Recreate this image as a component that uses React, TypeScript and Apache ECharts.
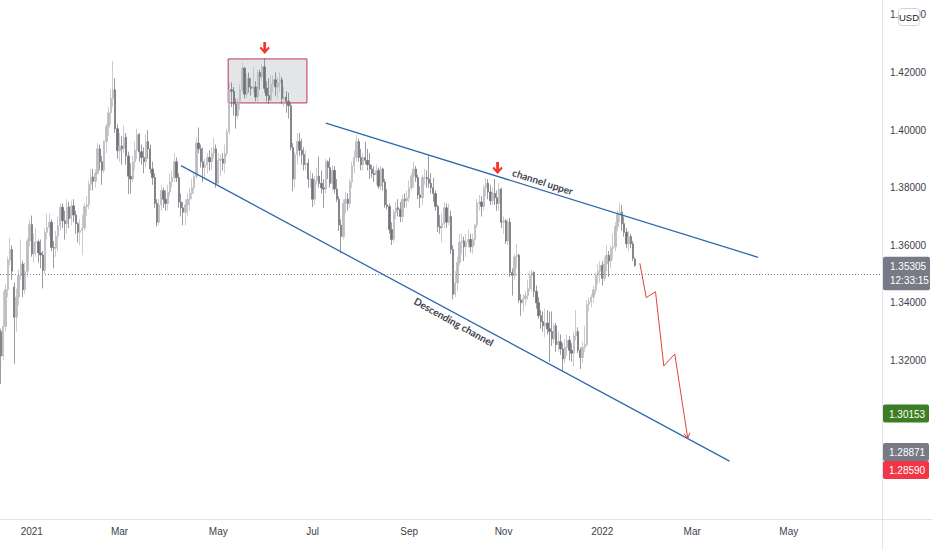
import React, { useEffect, useRef } from "react";
import * as echarts from "echarts";

// ---------- axis / calendar ----------
const startDate = "2020-12-11";
const skippedDays = ["2020-12-25", "2021-01-01"];
const categoryCount = 402;
const labelMonths = [0, 2, 4, 6, 8, 10];
const monthNames = ["Jan", "Feb", "Mar", "Apr", "May", "Jun", "Jul", "Aug", "Sep", "Oct", "Nov", "Dec"];
const priceTicks = [1.28, 1.32, 1.34, 1.36, 1.38, 1.4, 1.42, 1.44];
const yMin = 1.2649;
const yMax = 1.4452;

// ---------- daily candles [open, high, low, close] ----------
const dec2020 = [
  [1.33, 1.331, 1.3118, 1.3215], [1.3215, 1.344, 1.32, 1.3318], [1.3318, 1.3465, 1.33, 1.3446],
  [1.3446, 1.356, 1.342, 1.3548], [1.3548, 1.3625, 1.353, 1.3585], [1.3585, 1.36, 1.348, 1.351],
  [1.3455, 1.347, 1.3188, 1.335], [1.335, 1.345, 1.33, 1.342], [1.342, 1.3515, 1.339, 1.3495],
  [1.3495, 1.362, 1.348, 1.3535], [1.3535, 1.3545, 1.342, 1.3445], [1.3445, 1.354, 1.343, 1.351],
  [1.351, 1.3625, 1.349, 1.3615], [1.3615, 1.369, 1.3595, 1.3672],
];
const jan2021 = [
  [1.3672, 1.3703, 1.356, 1.357], [1.357, 1.364, 1.354, 1.361], [1.361, 1.366, 1.356, 1.3612],
  [1.3612, 1.362, 1.354, 1.3573], [1.3573, 1.362, 1.352, 1.3566], [1.3566, 1.358, 1.345, 1.3512],
  [1.3512, 1.366, 1.35, 1.3645], [1.3645, 1.371, 1.362, 1.3662], [1.3662, 1.371, 1.363, 1.368],
  [1.368, 1.369, 1.358, 1.3592], [1.3592, 1.3615, 1.352, 1.359], [1.359, 1.365, 1.356, 1.3631],
  [1.3631, 1.37, 1.358, 1.3668], [1.3668, 1.3745, 1.365, 1.3732], [1.3732, 1.3745, 1.366, 1.3685],
  [1.3685, 1.372, 1.362, 1.3675], [1.3675, 1.376, 1.364, 1.3733], [1.3733, 1.375, 1.366, 1.3693],
  [1.3693, 1.3755, 1.367, 1.3737], [1.3737, 1.376, 1.368, 1.3705],
];
const feb2021 = [
  [1.3705, 1.372, 1.364, 1.3675], [1.3675, 1.368, 1.361, 1.3645], [1.3645, 1.369, 1.36, 1.365],
  [1.365, 1.3705, 1.3565, 1.366], [1.366, 1.3745, 1.365, 1.3735], [1.3735, 1.377, 1.37, 1.374],
  [1.374, 1.3825, 1.3725, 1.3812], [1.3812, 1.3865, 1.379, 1.3837], [1.3837, 1.3865, 1.379, 1.3822],
  [1.3822, 1.3865, 1.38, 1.385], [1.385, 1.3955, 1.3845, 1.3935], [1.3935, 1.395, 1.386, 1.389],
  [1.389, 1.391, 1.381, 1.386], [1.386, 1.3965, 1.385, 1.396], [1.396, 1.402, 1.392, 1.4012],
  [1.4012, 1.408, 1.398, 1.406], [1.406, 1.414, 1.402, 1.411], [1.411, 1.4241, 1.408, 1.414],
  [1.414, 1.418, 1.399, 1.4005], [1.4005, 1.402, 1.39, 1.3928],
];
const mar2021 = [
  [1.3928, 1.399, 1.389, 1.3945], [1.3945, 1.398, 1.388, 1.3935], [1.3935, 1.4017, 1.392, 1.3975],
  [1.3975, 1.399, 1.388, 1.391], [1.391, 1.3925, 1.3778, 1.384], [1.384, 1.3885, 1.378, 1.383],
  [1.383, 1.391, 1.382, 1.389], [1.389, 1.396, 1.386, 1.393], [1.393, 1.4005, 1.39, 1.3985],
  [1.3985, 1.399, 1.389, 1.3925], [1.3925, 1.395, 1.388, 1.3905], [1.3905, 1.394, 1.385, 1.389],
  [1.389, 1.3985, 1.387, 1.396], [1.396, 1.4, 1.39, 1.3935], [1.3935, 1.395, 1.385, 1.3865],
  [1.3865, 1.389, 1.381, 1.3835], [1.3835, 1.385, 1.373, 1.3745], [1.3745, 1.376, 1.3665, 1.368],
  [1.368, 1.376, 1.367, 1.374], [1.374, 1.381, 1.372, 1.379], [1.379, 1.38, 1.373, 1.376],
  [1.376, 1.379, 1.372, 1.3745], [1.3745, 1.381, 1.372, 1.3785],
];
const apr2021 = [
  [1.3785, 1.385, 1.377, 1.382], [1.382, 1.386, 1.38, 1.3835], [1.3835, 1.3919, 1.382, 1.389],
  [1.389, 1.3905, 1.382, 1.3835], [1.3835, 1.385, 1.373, 1.375], [1.375, 1.378, 1.37, 1.373],
  [1.373, 1.375, 1.367, 1.3715], [1.3715, 1.376, 1.3669, 1.374], [1.374, 1.378, 1.37, 1.376],
  [1.376, 1.38, 1.372, 1.378], [1.378, 1.383, 1.376, 1.38], [1.38, 1.385, 1.378, 1.384],
  [1.384, 1.3975, 1.383, 1.3955], [1.3955, 1.4009, 1.392, 1.3935], [1.3935, 1.395, 1.387, 1.389],
  [1.389, 1.394, 1.382, 1.387], [1.387, 1.39, 1.383, 1.388], [1.388, 1.392, 1.385, 1.3905],
  [1.3905, 1.393, 1.386, 1.389], [1.389, 1.394, 1.386, 1.392], [1.392, 1.3973, 1.39, 1.3935],
  [1.3935, 1.395, 1.38, 1.3815],
];
const may2021 = [
  [1.3815, 1.392, 1.381, 1.3895], [1.3895, 1.3915, 1.384, 1.39], [1.39, 1.392, 1.386, 1.3885],
  [1.3885, 1.395, 1.385, 1.392], [1.392, 1.4005, 1.391, 1.3995], [1.3995, 1.4165, 1.3985, 1.414],
  [1.414, 1.4166, 1.408, 1.4135], [1.4135, 1.415, 1.405, 1.409], [1.409, 1.411, 1.4005, 1.405],
  [1.405, 1.411, 1.404, 1.4095], [1.4095, 1.416, 1.407, 1.414], [1.414, 1.4234, 1.413, 1.4215],
  [1.4215, 1.422, 1.411, 1.4125], [1.4125, 1.4195, 1.411, 1.418], [1.418, 1.42, 1.413, 1.415],
  [1.415, 1.418, 1.412, 1.4145], [1.4145, 1.422, 1.413, 1.415], [1.415, 1.417, 1.41, 1.4115],
  [1.4115, 1.421, 1.41, 1.42], [1.42, 1.421, 1.414, 1.4185], [1.4185, 1.423, 1.417, 1.422],
];
const jun2021 = [
  [1.422, 1.425, 1.413, 1.4145], [1.4145, 1.417, 1.41, 1.412], [1.412, 1.418, 1.409, 1.4105],
  [1.4105, 1.419, 1.409, 1.416], [1.416, 1.419, 1.413, 1.4175], [1.4175, 1.42, 1.412, 1.415],
  [1.415, 1.4185, 1.411, 1.4165], [1.4165, 1.42, 1.413, 1.4175], [1.4175, 1.4185, 1.409, 1.411],
  [1.411, 1.415, 1.408, 1.4115], [1.4115, 1.4135, 1.406, 1.41], [1.41, 1.413, 1.404, 1.4085],
  [1.4085, 1.4095, 1.393, 1.394], [1.394, 1.3955, 1.3787, 1.383], [1.383, 1.3925, 1.38, 1.3915],
  [1.3915, 1.399, 1.388, 1.396], [1.396, 1.399, 1.391, 1.393], [1.393, 1.397, 1.388, 1.3915],
  [1.3915, 1.394, 1.386, 1.388], [1.388, 1.393, 1.386, 1.3885], [1.3885, 1.39, 1.38, 1.383],
  [1.383, 1.386, 1.38, 1.383],
];
const jul2021 = [
  [1.383, 1.385, 1.3733, 1.376], [1.376, 1.384, 1.374, 1.3825], [1.3825, 1.387, 1.381, 1.384],
  [1.384, 1.3908, 1.38, 1.3815], [1.3815, 1.386, 1.378, 1.38], [1.38, 1.383, 1.373, 1.3795],
  [1.3795, 1.39, 1.378, 1.389], [1.389, 1.3895, 1.383, 1.387], [1.387, 1.3905, 1.38, 1.3815],
  [1.3815, 1.388, 1.379, 1.386], [1.386, 1.3875, 1.378, 1.3795], [1.3795, 1.383, 1.375, 1.376],
  [1.376, 1.377, 1.365, 1.367], [1.367, 1.369, 1.3572, 1.363], [1.363, 1.376, 1.362, 1.3745],
  [1.3745, 1.3785, 1.371, 1.376], [1.376, 1.378, 1.372, 1.3745], [1.3745, 1.383, 1.373, 1.382],
  [1.382, 1.389, 1.38, 1.3875], [1.3875, 1.393, 1.385, 1.3905], [1.3905, 1.3984, 1.389, 1.396],
  [1.396, 1.397, 1.389, 1.3905],
];
const aug2021 = [
  [1.3905, 1.3935, 1.386, 1.388], [1.388, 1.392, 1.386, 1.3905], [1.3905, 1.396, 1.388, 1.3895],
  [1.3895, 1.3935, 1.386, 1.388], [1.388, 1.392, 1.383, 1.3865], [1.3865, 1.388, 1.3835, 1.385],
  [1.385, 1.3875, 1.382, 1.3845], [1.3845, 1.388, 1.381, 1.386], [1.386, 1.387, 1.3795, 1.3805],
  [1.3805, 1.3875, 1.379, 1.3865], [1.3865, 1.387, 1.379, 1.382], [1.382, 1.383, 1.373, 1.374],
  [1.374, 1.3795, 1.3725, 1.3735], [1.3735, 1.3745, 1.364, 1.3655], [1.3655, 1.368, 1.3601, 1.362],
  [1.362, 1.3725, 1.361, 1.3715], [1.3715, 1.375, 1.369, 1.373], [1.373, 1.376, 1.37, 1.3725],
  [1.3725, 1.375, 1.368, 1.37], [1.37, 1.3775, 1.368, 1.376], [1.376, 1.378, 1.373, 1.3755],
  [1.3755, 1.379, 1.373, 1.3765],
];
const sep2021 = [
  [1.3765, 1.3825, 1.375, 1.38], [1.38, 1.385, 1.379, 1.384], [1.384, 1.389, 1.38, 1.3865],
  [1.3865, 1.3875, 1.382, 1.3835], [1.3835, 1.3845, 1.376, 1.3775], [1.3775, 1.3805, 1.373, 1.3765],
  [1.3765, 1.3845, 1.374, 1.3835], [1.3835, 1.3865, 1.381, 1.3835], [1.3835, 1.386, 1.38, 1.383],
  [1.383, 1.3913, 1.38, 1.3815], [1.3815, 1.385, 1.378, 1.38], [1.38, 1.3835, 1.375, 1.378],
  [1.378, 1.379, 1.372, 1.3735], [1.3735, 1.374, 1.3645, 1.3665], [1.3665, 1.3705, 1.364, 1.366],
  [1.366, 1.371, 1.361, 1.3675], [1.3675, 1.375, 1.366, 1.373], [1.373, 1.3745, 1.366, 1.368],
  [1.368, 1.3745, 1.367, 1.37], [1.37, 1.372, 1.357, 1.3585], [1.3585, 1.36, 1.3412, 1.343],
  [1.343, 1.351, 1.342, 1.347],
];
const oct2021 = [
  [1.347, 1.356, 1.344, 1.354], [1.354, 1.364, 1.353, 1.361], [1.361, 1.364, 1.357, 1.3615],
  [1.3615, 1.363, 1.3545, 1.3595], [1.3595, 1.364, 1.356, 1.361], [1.361, 1.3655, 1.359, 1.362],
  [1.362, 1.364, 1.3575, 1.3595], [1.3595, 1.364, 1.357, 1.362], [1.362, 1.3675, 1.36, 1.367],
  [1.367, 1.376, 1.366, 1.3745], [1.3745, 1.3775, 1.372, 1.375], [1.375, 1.377, 1.37, 1.3735],
  [1.3735, 1.381, 1.372, 1.38], [1.38, 1.3834, 1.377, 1.3815], [1.3815, 1.383, 1.376, 1.3785],
  [1.3785, 1.381, 1.374, 1.3755], [1.3755, 1.38, 1.374, 1.378], [1.378, 1.383, 1.374, 1.3765],
  [1.3765, 1.379, 1.372, 1.3745], [1.3745, 1.3815, 1.372, 1.3795], [1.3795, 1.38, 1.366, 1.368],
];
const nov2021 = [
  [1.368, 1.37, 1.364, 1.3685], [1.3685, 1.369, 1.3605, 1.3615], [1.3615, 1.369, 1.36, 1.368],
  [1.368, 1.3695, 1.349, 1.3505], [1.3505, 1.352, 1.3425, 1.3495], [1.3495, 1.357, 1.348, 1.356],
  [1.356, 1.3605, 1.352, 1.3565], [1.3565, 1.357, 1.34, 1.341], [1.341, 1.343, 1.3355, 1.34],
  [1.34, 1.343, 1.337, 1.3415], [1.3415, 1.344, 1.339, 1.3425], [1.3425, 1.348, 1.341, 1.345],
  [1.345, 1.351, 1.344, 1.3495], [1.3495, 1.3515, 1.344, 1.3505], [1.3505, 1.351, 1.342, 1.344],
  [1.344, 1.346, 1.338, 1.34], [1.34, 1.342, 1.3345, 1.3355], [1.3355, 1.3375, 1.331, 1.3335],
  [1.3335, 1.337, 1.33, 1.332], [1.332, 1.338, 1.328, 1.333], [1.333, 1.3375, 1.329, 1.331],
  [1.331, 1.337, 1.3195, 1.33],
];
const dec2021 = [
  [1.33, 1.337, 1.325, 1.3275], [1.3275, 1.333, 1.326, 1.332], [1.332, 1.333, 1.323, 1.3255],
  [1.3255, 1.33, 1.323, 1.3265], [1.3265, 1.329, 1.322, 1.324], [1.324, 1.326, 1.316, 1.3205],
  [1.3205, 1.3275, 1.319, 1.3245], [1.3245, 1.329, 1.3215, 1.327], [1.327, 1.3285, 1.32, 1.3235],
  [1.3235, 1.326, 1.3195, 1.3225], [1.3225, 1.33, 1.318, 1.3285], [1.3285, 1.3375, 1.327, 1.33],
  [1.33, 1.3315, 1.3225, 1.3235], [1.3235, 1.3245, 1.317, 1.321], [1.321, 1.3265, 1.319, 1.3245],
  [1.3245, 1.332, 1.323, 1.3255], [1.3255, 1.341, 1.325, 1.3395], [1.3395, 1.342, 1.337, 1.3405],
  [1.3405, 1.343, 1.3385, 1.342], [1.342, 1.346, 1.34, 1.3445], [1.3445, 1.3505, 1.343, 1.3495],
  [1.3495, 1.3535, 1.3465, 1.351], [1.351, 1.3545, 1.347, 1.353],
];
const jan2022 = [
  [1.353, 1.3545, 1.346, 1.3485], [1.3485, 1.356, 1.3475, 1.3535], [1.3535, 1.36, 1.351, 1.3565],
  [1.3565, 1.358, 1.349, 1.3545], [1.3545, 1.36, 1.352, 1.359], [1.359, 1.364, 1.355, 1.3595],
  [1.3595, 1.368, 1.358, 1.3665], [1.3665, 1.372, 1.365, 1.371], [1.371, 1.3749, 1.368, 1.3715],
  [1.3715, 1.374, 1.365, 1.3675], [1.3675, 1.37, 1.363, 1.3645], [1.3645, 1.366, 1.359, 1.3605],
  [1.3605, 1.365, 1.358, 1.363], [1.363, 1.364, 1.359, 1.3605], [1.3605, 1.3615, 1.3545, 1.3555],
  [1.3552, 1.3558, 1.3525, 1.353],
];

// ---------- price-scale markers ----------
const lastPrice = 1.35305;
const countdown = "12:33:15";
const scaleBadges = [
  { value: 1.30153, color: "#3d7e24" },
  { value: 1.28871, color: "#787b86" },
  { value: 1.2859, color: "#f23645" },
];

// ---------- drawings, in [bar index, price] ----------
const lowerChannel = [[82, 1.38766], [332, 1.28502]];
const upperChannel = [[148, 1.40243], [345, 1.35583]];
const projectionPath = [
  [291.13, 1.35375], [294.04, 1.34179], [298.27, 1.34388],
  [302.05, 1.31806], [307.05, 1.32223], [312.96, 1.29294],
];
const projectionHead = [[313.96, 1.29489], [312.96, 1.29294], [311.23, 1.29457]];
const topBox = [[103.5, 1.42473], [139.4, 1.40944]];
const arrowMarks = [[120.15, 1.42855], [226.28, 1.38686]];
const channelTexts = [
  { text: "channel upper", at: [246.9, 1.3821], angle: 18 },
  { text: "Descending channel", at: [206.4, 1.33345], angle: 29 },
];

const FONT = "'Liberation Sans', Arial, sans-serif";
const AXIS_TEXT = "#3b3f4a";

function pad(n: number) {
  return n < 10 ? "0" + n : "" + n;
}

function buildDates(): string[] {
  const out: string[] = [];
  const [y, m, d] = startDate.split("-").map(Number);
  const cur = new Date(Date.UTC(y, m - 1, d));
  while (out.length < categoryCount) {
    const wd = cur.getUTCDay();
    const s = `${cur.getUTCFullYear()}-${pad(cur.getUTCMonth() + 1)}-${pad(cur.getUTCDate())}`;
    if (wd !== 0 && wd !== 6 && !skippedDays.includes(s)) out.push(s);
    cur.setUTCDate(cur.getUTCDate() + 1);
  }
  return out;
}

export default function App() {
  const ref = useRef<HTMLDivElement>(null);

  useEffect(() => {
    const el = ref.current;
    if (!el) return;
    const chart = echarts.init(el, null, { renderer: "svg" });

    const dates = buildDates();
    const labelMap = new Map<number, string>();
    let prevMonth = -1;
    dates.forEach((s, i) => {
      const yy = Number(s.slice(0, 4));
      const mm = Number(s.slice(5, 7)) - 1;
      if (mm !== prevMonth) {
        if (i > 0 && labelMonths.includes(mm)) {
          labelMap.set(i, mm === 0 ? String(yy) : monthNames[mm]);
        }
        prevMonth = mm;
      }
    });

    const rows = [
      ...dec2020, ...jan2021, ...feb2021, ...mar2021, ...apr2021, ...may2021, ...jun2021,
      ...jul2021, ...aug2021, ...sep2021, ...oct2021, ...nov2021, ...dec2021, ...jan2022,
    ];
    const candleData = rows.map(([o, h, l, c]) => [o, c, Math.min(l, o, c), Math.max(h, o, c)]);

    const drawStyle = { color: "#2e69ad", width: 1.3 };

    chart.setOption({
      animation: false,
      backgroundColor: "#ffffff",
      grid: { left: -2, right: 50, top: 0, bottom: 31, containLabel: false },
      xAxis: [
        {
          type: "category",
          data: dates,
          boundaryGap: true,
          axisLine: { show: false },
          axisTick: { show: false },
          splitLine: { show: false },
          axisLabel: {
            interval: (i: number) => labelMap.has(i),
            formatter: (_v: string, i: number) => labelMap.get(i) ?? "",
            color: AXIS_TEXT,
            fontSize: 10,
            fontFamily: FONT,
            margin: 7,
          },
        },
        {
          type: "value",
          min: -0.5,
          max: categoryCount - 0.5,
          show: false,
        },
      ],
      yAxis: {
        type: "value",
        position: "right",
        min: yMin,
        max: yMax,
        scale: true,
        axisLine: { show: false },
        axisTick: { show: false },
        splitLine: { show: false },
        axisLabel: {
          customValues: priceTicks,
          formatter: (v: number) => v.toFixed(5),
          color: AXIS_TEXT,
          fontSize: 10,
          fontFamily: FONT,
          margin: 8,
        },
      },
      series: [
        {
          type: "candlestick",
          data: candleData,
          barWidth: 1.8,
          z: 2,
          itemStyle: {
            color: "#bcbdc1",
            color0: "#707176",
            borderColor: "#b6b7bb",
            borderColor0: "#707176",
            borderWidth: 0.7,
          },
          markLine: {
            silent: true,
            symbol: ["none", "none"],
            label: { show: false },
            lineStyle: { type: [1, 2], color: "#80838c", width: 1 },
            data: [{ yAxis: lastPrice }],
          },
        },
        {
          type: "line",
          xAxisIndex: 1,
          data: lowerChannel,
          symbol: "none",
          silent: true,
          z: 5,
          lineStyle: drawStyle,
        },
        {
          type: "line",
          xAxisIndex: 1,
          data: upperChannel,
          symbol: "none",
          silent: true,
          z: 5,
          lineStyle: drawStyle,
          markArea: {
            silent: true,
            itemStyle: {
              color: "rgba(120,123,134,0.2)",
              borderColor: "#c2325e",
              borderWidth: 1,
            },
            data: [[{ coord: topBox[0] }, { coord: topBox[1] }]],
          },
          markPoint: {
            silent: true,
            symbol: "path://M3.6 0 L6.4 0 L6.4 6.6 L8.8 4.2 L10 5.8 L5 10.8 L0 5.8 L1.2 4.2 L3.6 6.6 Z",
            symbolSize: [10, 12],
            itemStyle: { color: "#f0362f" },
            label: { show: false },
            data: arrowMarks.map((c) => ({ coord: c })),
          },
        },
        {
          type: "line",
          xAxisIndex: 1,
          data: projectionPath,
          symbol: "none",
          silent: true,
          z: 5,
          lineStyle: { color: "#e0443c", width: 1 },
        },
        {
          type: "line",
          xAxisIndex: 1,
          data: projectionHead,
          symbol: "none",
          silent: true,
          z: 5,
          lineStyle: { color: "#e0443c", width: 1 },
        },
      ],
    });

    const yPx = (v: number) => chart.convertToPixel({ yAxisIndex: 0 }, v) as number;
    const toPx = (pt: number[]) => chart.convertToPixel({ seriesIndex: 1 }, pt) as number[];

    const badgeX = 883;
    const badgeW = 47;
    const badgeFont = `10px ${FONT}`;
    const textStyle = (text: string, x: number, y: number, fill: string, font: string, align = "left") => ({
      text, x, y, fill, font,
      align, verticalAlign: "middle",
      textAlign: align, textVerticalAlign: "middle",
    });

    const g: any[] = [];
    g.push({ type: "line", z: 90, shape: { x1: 882.5, y1: 0, x2: 882.5, y2: 550 }, style: { stroke: "#e0e3eb", lineWidth: 1 } });
    g.push({ type: "line", z: 90, shape: { x1: 0, y1: 519.5, x2: 932, y2: 519.5 }, style: { stroke: "#e0e3eb", lineWidth: 1 } });

    // USD box
    g.push({ type: "rect", z: 100, shape: { x: 898.5, y: 8.5, width: 21, height: 17, r: 3 }, style: { fill: "#ffffff", stroke: "#d1d4dc", lineWidth: 1 } });
    g.push({ type: "text", z: 101, style: textStyle("USD", 909, 17.5, "#131722", `9.5px ${FONT}`, "center") });

    // last price badge
    const lp = yPx(lastPrice);
    g.push({ type: "rect", z: 100, shape: { x: badgeX, y: lp - 8.5, width: badgeW, height: 33.5, r: 2 }, style: { fill: "#787b86" } });
    g.push({ type: "text", z: 101, style: textStyle(lastPrice.toFixed(5), badgeX + 7, lp + 1, "#ffffff", badgeFont) });
    g.push({ type: "text", z: 101, style: textStyle(countdown, badgeX + 7, lp + 15.5, "#ffffff", badgeFont) });

    // other scale badges (overlapping labels are stacked downward)
    let lastBottom = -Infinity;
    scaleBadges.forEach((b) => {
      let top = yPx(b.value) - 9 + (b.value === 1.28871 ? 1.5 : 0);
      if (top < lastBottom) top = lastBottom;
      lastBottom = top + 18;
      g.push({ type: "rect", z: 100, shape: { x: badgeX, y: top, width: badgeW - 1, height: 18, r: 2 }, style: { fill: b.color } });
      g.push({ type: "text", z: 101, style: textStyle(b.value.toFixed(5), badgeX + 6, top + 9.5, "#ffffff", badgeFont) });
    });

    // channel captions
    channelTexts.forEach((t) => {
      const [x, y] = toPx(t.at);
      g.push({
        type: "text",
        z: 60,
        x,
        y,
        rotation: (-t.angle * Math.PI) / 180,
        style: textStyle(t.text, 0, 0, "#40434d", "bold 10px Lato, 'Open Sans', sans-serif", "center"),
      });
    });

    chart.setOption({ graphic: g });

    return () => chart.dispose();
  }, []);

  return (
    <div
      ref={ref}
      style={{ position: "fixed", left: 0, top: 0, width: 932, height: 550, background: "#ffffff" }}
    />
  );
}
